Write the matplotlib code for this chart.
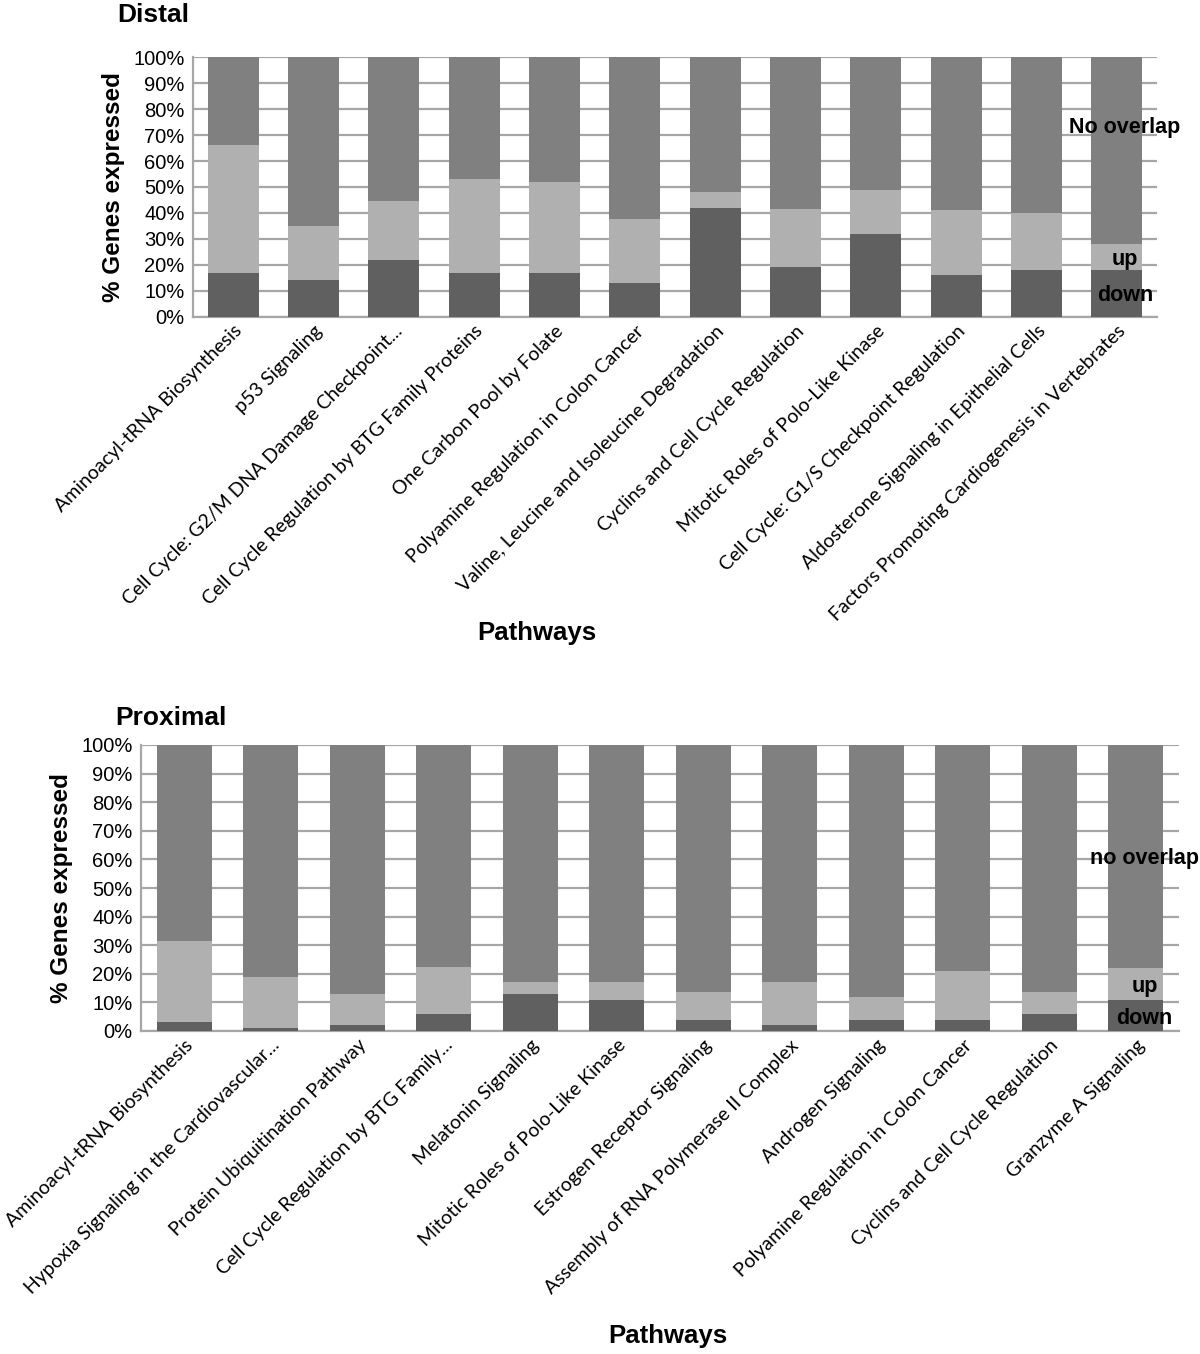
import numpy as np
import matplotlib.pyplot as plt

# Distal pathways
distal_paths = ['Aminoacyl-tRNA Biosynthesis', 'p53 Signaling',
                'Cell Cycle: G2/M DNA Damage Checkpoint...',
                'Cell Cycle Regulation by BTG Family Proteins',
                'One Carbon Pool by Folate', 'Polyamine Regulation in Colon Cancer',
                'Valine, Leucine and Isoleucine Degradation',
                'Cyclins and Cell Cycle Regulation', 'Mitotic Roles of Polo-Like Kinase',
                'Cell Cycle: G1/S Checkpoint Regulation',
                'Aldosterone Signaling in Epithelial Cells',
                'Factors Promoting Cardiogenesis in Vertebrates']
distal_down = [17, 14, 22, 17, 17, 13, 42, 19, 32, 16, 18, 18]
distal_up = [49, 21, 22.5, 36, 35, 24.5, 6, 22.5, 17, 25, 22, 10]

# Proximal pathways
prox_paths = ['Aminoacyl-tRNA Biosynthesis', 'Hypoxia Signaling in the Cardiovascular...',
              'Protein Ubiquitination Pathway', 'Cell Cycle Regulation by BTG Family...',
              'Melatonin Signaling', 'Mitotic Roles of Polo-Like Kinase',
              'Estrogen Receptor Signaling', 'Assembly of RNA Polymerase II Complex',
              'Androgen Signaling', 'Polyamine Regulation in Colon Cancer',
              'Cyclins and Cell Cycle Regulation', 'Granzyme A Signaling']
prox_down = [3, 1, 2, 6, 13, 11, 4, 2, 4, 4, 6, 11]
prox_up = [28.5, 18, 11, 16.5, 4, 6, 9.5, 15, 8, 17, 7.5, 11]

c_down = '#606060'
c_up = '#b0b0b0'
c_none = '#808080'
grid_c = '#a6a6a6'

fig = plt.figure(figsize=(12, 13.54), dpi=100)


def draw(ax, names, down, up, width, title, labels_pos, title_xy, xlab_xy):
    down = np.array(down, dtype=float)
    up = np.array(up, dtype=float)
    none = 100 - down - up
    x = np.arange(len(names))
    ax.bar(x, down, width, color=c_down, zorder=3)
    ax.bar(x, up, width, bottom=down, color=c_up, zorder=3)
    ax.bar(x, none, width, bottom=down + up, color=c_none, zorder=3)
    ax.set_xlim(-0.5, len(names) - 0.5)
    ax.set_ylim(0, 100)
    ax.set_yticks(np.arange(0, 101, 10))
    ax.set_yticklabels(['%d%%' % v for v in range(0, 101, 10)],
                       fontsize=14.5, family='Liberation Sans')
    ax.yaxis.grid(True, color=grid_c, linewidth=1.6, zorder=0)
    ax.tick_params(axis='y', length=0, pad=6)
    ax.tick_params(axis='x', length=0, pad=4)
    for s in ['top', 'right']:
        ax.spines[s].set_visible(False)
    for s in ['left', 'bottom']:
        ax.spines[s].set_color(grid_c)
        ax.spines[s].set_linewidth(1.6)
    ax.set_xticks(x)
    ax.set_xticklabels(names, rotation=45, ha='right', rotation_mode='anchor',
                       fontsize=14, family='Lato')
    ax.set_ylabel('% Genes expressed', fontsize=17.5, fontweight='bold',
                  family='Liberation Sans', labelpad=6)
    fig.text(xlab_xy[0] / 1200, 1 - xlab_xy[1] / 1354, 'Pathways', fontsize=18.5,
             fontweight='bold', family='Liberation Sans', ha='center', va='center')
    fig.text(title_xy[0] / 1200, 1 - title_xy[1] / 1354, title, fontsize=19,
             fontweight='bold', family='Liberation Sans', va='center')
    lbl_kw = dict(fontsize=15.5, fontweight='bold', family='Liberation Sans',
                  ha='center', va='center', zorder=5, clip_on=False)
    last = len(names) - 1
    for txt, yv in zip(labels_pos[0], labels_pos[1]):
        ax.text(last + labels_pos[2], yv, txt, **lbl_kw)


ax1 = fig.add_axes([193 / 1200, 1 - 316.7 / 1354, (1157 - 193) / 1200, (316.7 - 57.3) / 1354])
draw(ax1, distal_paths, distal_down, distal_up, 0.635, 'Distal',
     (['No overlap', 'up', 'down'], [73, 22, 8.3], 0.1), (117, 15), (537, 633))

ax2 = fig.add_axes([141 / 1200, 1 - 1031 / 1354, (1179 - 141) / 1200, (1031 - 745) / 1354])
draw(ax2, prox_paths, prox_down, prox_up, 0.64, 'Proximal',
     (['no overlap', 'up', 'down'], [60.4, 15.6, 4.3], 0.1), (115, 718), (668, 1336))

fig.savefig('out.png', dpi=100)
